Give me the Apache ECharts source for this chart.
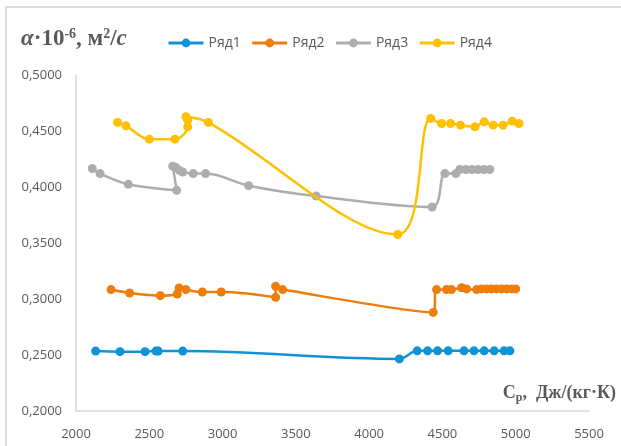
<!DOCTYPE html>
<html>
<head>
<meta charset="utf-8">
<script src="https://cdn.jsdelivr.net/npm/echarts@6/dist/echarts.min.js"></script>
<style>
  html, body { margin: 0; padding: 0; background: #ffffff; }
  #chart { width: 621px; height: 446px; }
</style>
</head>
<body>
<div id="chart"></div>
<script>
// Heat capacity Cp, J/(kg·K) and thermal diffusivity α·10^-6, m²/s per series
var seriesNames = ['Ряд1', 'Ряд2', 'Ряд3', 'Ряд4'];

var cp1 = [2134, 2300, 2471, 2546, 2561, 2728, 4206, 4328, 4399, 4467, 4539, 4647, 4715, 4785, 4853, 4921, 4960];
var alpha1 = [0.2535, 0.2530, 0.2530, 0.2535, 0.2535, 0.2535, 0.2465, 0.2537, 0.2537, 0.2537, 0.2537, 0.2537, 0.2537, 0.2537, 0.2537, 0.2537, 0.2537];

var cp2 = [2239, 2366, 2575, 2691, 2703, 2750, 2862, 2991, 3362, 3362, 3410, 4437, 4460, 4528, 4562, 4631, 4665, 4733, 4767, 4801, 4835, 4870, 4904, 4938, 4972, 5000];
var alpha2 = [0.3084, 0.3054, 0.3030, 0.3045, 0.3099, 0.3084, 0.3063, 0.3063, 0.3015, 0.3113, 0.3084, 0.2880, 0.3084, 0.3084, 0.3084, 0.3100, 0.3090, 0.3084, 0.3090, 0.3090, 0.3090, 0.3090, 0.3090, 0.3090, 0.3090, 0.3090];

var cp3 = [2111, 2164, 2357, 2687, 2660, 2682, 2705, 2728, 2800, 2884, 3178, 3639, 4430, 4517, 4592, 4619, 4660, 4701, 4742, 4783, 4823];
var alpha3 = [0.4165, 0.4120, 0.4024, 0.3970, 0.4185, 0.4173, 0.4149, 0.4134, 0.4120, 0.4120, 0.4012, 0.3919, 0.3821, 0.4120, 0.4120, 0.4156, 0.4156, 0.4156, 0.4156, 0.4156, 0.4156];

var cp4 = [2284, 2341, 2500, 2675, 2762, 2762, 2750, 2903, 4195, 4420, 4494, 4555, 4623, 4722, 4785, 4846, 4914, 4976, 5022];
var alpha4 = [0.4577, 0.4546, 0.4427, 0.4427, 0.4537, 0.4597, 0.4627, 0.4577, 0.3576, 0.4612, 0.4567, 0.4567, 0.4552, 0.4537, 0.4582, 0.4552, 0.4552, 0.4588, 0.4567];

var xTicks = [2000, 5500, 500];
var yTicks = [0.2, 0.5, 0.05];

var colors = ['#0E94D6', '#EF7D0A', '#AFADAB', '#FFC000'];
var textGray = '#595959';
var sansFont = '"Open Sans", "Liberation Sans", sans-serif';
var serifFont = '"Liberation Serif", "DejaVu Serif", serif';

function zip(xs, ys) {
  return xs.map(function (x, i) { return [x, ys[i]]; });
}

var pairs = [zip(cp1, alpha1), zip(cp2, alpha2), zip(cp3, alpha3), zip(cp4, alpha4)];

var chart = echarts.init(document.getElementById('chart'));

chart.setOption({
  backgroundColor: '#ffffff',
  animation: false,
  color: colors,
  title: {
    left: 16,
    top: 22,
    text: '{i|α}{b|·10}{s|-6}{b|, м}{s|2}{b|/}{i|с}',
    textStyle: {
      rich: {
        i: { fontFamily: serifFont, fontSize: 23, fontWeight: 'bold', fontStyle: 'italic', color: textGray },
        b: { fontFamily: serifFont, fontSize: 23, fontWeight: 'bold', color: textGray },
        s: { fontFamily: serifFont, fontSize: 14, fontWeight: 'bold', color: textGray, padding: [0, 0, 11, 0] }
      }
    }
  },
  legend: {
    left: 162,
    top: 31,
    itemWidth: 35,
    itemHeight: 11,
    itemGap: 10,
    data: seriesNames,
    lineStyle: { width: 3 },
    textStyle: { fontFamily: sansFont, fontSize: 14, color: textGray }
  },
  grid: { left: 76, right: 32, top: 75, bottom: 35, containLabel: false },
  xAxis: {
    type: 'value',
    min: xTicks[0],
    max: xTicks[1],
    interval: xTicks[2],
    axisLine: { show: true, lineStyle: { color: '#d9d9d9', width: 1.5 } },
    axisTick: { show: false },
    splitLine: { show: false },
    axisLabel: {
      margin: 17,
      fontFamily: sansFont,
      fontSize: 13,
      color: textGray,
      formatter: function (v) { return String(v); }
    }
  },
  yAxis: {
    type: 'value',
    min: yTicks[0],
    max: yTicks[1],
    interval: yTicks[2],
    axisLine: { show: true, lineStyle: { color: '#d9d9d9', width: 1.5 } },
    axisTick: { show: false },
    splitLine: { show: false },
    axisLabel: {
      margin: 14,
      fontFamily: sansFont,
      fontSize: 13,
      color: textGray,
      formatter: function (v) { return v.toFixed(4).replace('.', ','); }
    }
  },
  graphic: [
    {
      type: 'rect',
      shape: { x: 6, y: 7, width: 700, height: 500 },
      style: { fill: 'none', stroke: '#dcdcdc', lineWidth: 2 },
      silent: true
    },
    {
      type: 'text',
      right: 5,
      top: 384,
      style: {
        text: '{b|C}{s|p}{b|,  Дж/(кг·К)}',
        rich: {
          b: { fontFamily: serifFont, fontSize: 18, fontWeight: 'bold', fill: textGray },
          s: { fontFamily: serifFont, fontSize: 12, fontWeight: 'bold', fill: textGray, padding: [10, 0, 0, 0] }
        }
      }
    }
  ],
  series: pairs.map(function (d, i) {
    return {
      name: seriesNames[i],
      type: 'line',
      data: d,
      smooth: 0.35,
      symbol: 'circle',
      symbolSize: 9,
      showAllSymbol: true,
      lineStyle: { width: 2.5, color: colors[i] },
      itemStyle: { color: colors[i] },
      z: 2 + i
    };
  })
});
</script>
</body>
</html>
